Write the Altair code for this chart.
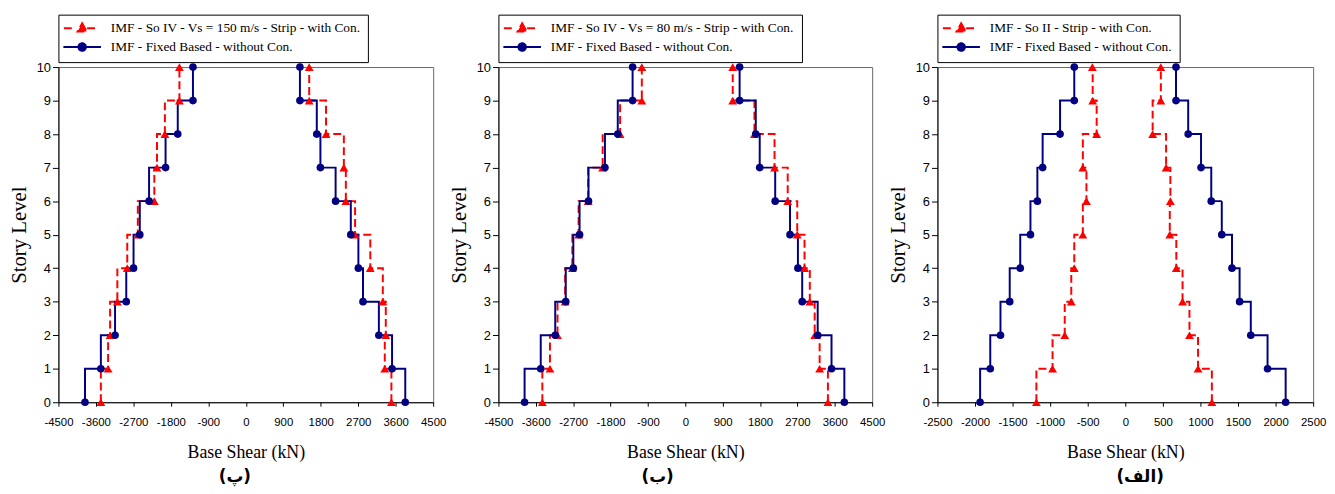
import altair as alt
import pandas as pd

levels = list(range(11))
BLUE_NAME = "IMF - Fixed Based - without Con."

# Panel (پ)
p1_red_name = "IMF - So IV - Vs = 150 m/s - Strip - with Con."
p1_red_left = [-3481, -3307, -3259, -3085, -2847, -2593, -2197, -2133, -1943, -1594, -1594]
p1_red_right = [3497, 3338, 3362, 3291, 2990, 2625, 2403, 2355, 1927, 1523, 1523]
p1_blue_left = [-3862, -3481, -3140, -2871, -2696, -2546, -2323, -1927, -1634, -1269, -1269]
p1_blue_right = [3830, 3513, 3196, 2815, 2704, 2522, 2157, 1792, 1705, 1300, 1300]

# Panel (ب)
p2_red_name = "IMF - So IV - Vs = 80 m/s - Strip - with Con."
p2_red_left = [-3442, -3259, -3077, -2894, -2720, -2569, -2339, -1990, -1570, -1047, -1047]
p2_red_right = [3434, 3235, 3116, 2998, 2871, 2696, 2466, 2149, 1665, 1142, 1142]
p2_blue_left = [-3870, -3481, -3132, -2879, -2696, -2546, -2331, -1935, -1626, -1269, -1269]
p2_blue_right = [3830, 3521, 3188, 2815, 2712, 2522, 2165, 1792, 1697, 1308, 1308]

# Panel (الف)
p3_red_name = "IMF - So II - Strip - with Con."
p3_red_left = [-1183, -968, -806, -719, -679, -565, -517, -565, -381, -434, -438]
p3_red_right = [1152, 968, 854, 762, 679, 592, 600, 543, 364, 473, 473]
p3_blue_left = [-1932, -1797, -1661, -1538, -1398, -1262, -1170, -1100, -868, -679, -679]
p3_blue_right = [2134, 1893, 1670, 1521, 1420, 1284, 1144, 1008, 837, 675, 675]

RED = "#FF0000"
NAVY = "#000080"
# legend glyphs (units scaled by sqrt(symbolSize)/2 = 5 px)
RED_PATH = "M-3.7,0H-1.3M1.0,0H3.2M0,-1L0.93,0.67L-0.93,0.67Z"
BLUE_PATH = "M-3.8,0H3.8M0.76,0A0.76,0.76,0,1,1,-0.76,0A0.76,0.76,0,1,1,0.76,0Z"


def panel(red_name, red_left, red_right, blue_left, blue_right, xmax, xstep, sub, sub_dx, width):
    rows = []
    for name, left, right in [(red_name, red_left, red_right), (BLUE_NAME, blue_left, blue_right)]:
        for lv, v in zip(levels, left):
            rows.append(dict(series=name, side="L", level=lv, shear=v))
        for lv, v in zip(levels, right):
            rows.append(dict(series=name, side="R", level=lv, shear=v))
    df = pd.DataFrame(rows)
    dom = [red_name, BLUE_NAME]

    xs = alt.X(
        "shear:Q",
        scale=alt.Scale(domain=[-xmax, xmax], nice=False, zero=False),
        axis=alt.Axis(values=list(range(-xmax, xmax + 1, xstep)), title="Base Shear (kN)",
                      labelExpr="'' + datum.value", labelOverlap=False, labelBound=False,
                      labelFlush=False),
    )
    ys = alt.Y(
        "level:Q",
        scale=alt.Scale(domain=[0, 10], nice=False),
        axis=alt.Axis(values=levels, title="Story Level", labelExpr="'' + datum.value",
                      labelOverlap=False, labelFlush=False),
    )
    sym_expr = f"datum.value == '{red_name}' ? '{RED_PATH}' : '{BLUE_PATH}'"
    fill_expr = f"datum.value == '{red_name}' ? '{RED}' : '{NAVY}'"
    legend = alt.Legend(
        title=None, orient="none", legendX=0, legendY=-53,
        symbolSize=100, symbolStrokeWidth=2,
        symbolType={"expr": sym_expr},
        symbolFillColor={"expr": fill_expr},
        symbolOffset=10.25, labelOffset=22.25, rowPadding=2, padding=7,
    )
    lines = alt.Chart(df).mark_line(interpolate="step-before", strokeWidth=2).encode(
        x=xs, y=ys,
        color=alt.Color("series:N", scale=alt.Scale(domain=dom, range=[RED, NAVY]), legend=legend),
        strokeDash=alt.StrokeDash("series:N", scale=alt.Scale(domain=dom, range=[[8, 4], [1, 0]]), legend=None),
        detail="side:N",
        order="level:Q",
    )
    red_pts = alt.Chart(df).transform_filter(alt.datum.series == red_name).mark_point(
        shape="triangle-up", size=80, filled=True, opacity=1, color=RED).encode(x=xs, y=ys)
    blue_pts = alt.Chart(df).transform_filter(alt.datum.series == BLUE_NAME).mark_point(
        shape="circle", size=60, filled=True, opacity=1, color=NAVY).encode(x=xs, y=ys)
    return alt.layer(lines, red_pts, blue_pts).properties(
        width=width, height=339,
        title=alt.TitleParams(sub, orient="bottom", font="DejaVu Sans", fontSize=17, fontWeight="bold",
                              anchor="middle", frame="group", dx=sub_dx, offset=8, color="#000"),
    )


p1 = panel(p1_red_name, p1_red_left, p1_red_right, p1_blue_left, p1_blue_right, 4500, 900, "(پ)", -11, 379)
p2 = panel(p2_red_name, p2_red_left, p2_red_right, p2_blue_left, p2_blue_right, 4500, 900, "(ب)", -28, 378)
p3 = panel(p3_red_name, p3_red_left, p3_red_right, p3_blue_left, p3_blue_right, 2500, 500, "(الف)", 15, 380)

chart = alt.hconcat(p1, p2, p3, spacing=1).resolve_scale(
    color="independent", strokeDash="independent"
).resolve_legend(color="independent").properties(
    padding={"left": 0, "top": 3, "right": 0, "bottom": 0}
).configure_view(stroke="#666666", strokeWidth=1).configure_axis(
    grid=False, domainColor="#000", tickColor="#000", labelFont="Liberation Sans", labelColor="#000",
    titleFont="Liberation Serif", titleColor="#000",
).configure_axisX(
    tickSize=4, labelPadding=11, labelFontSize=11.5, titleFontSize=18, titleFontWeight="normal", titlePadding=15,
).configure_axisY(
    tickSize=6, labelPadding=2, labelFontSize=13, titleFontSize=21, titleFontWeight="normal", titlePadding=7,
).configure_legend(
    labelFont="Liberation Serif", labelFontSize=13.5, labelColor="#000", strokeColor="#000",
    fillColor="#fff", labelLimit=500,
)

chart.save("out.html", embed_options={"renderer": "svg", "actions": False})
